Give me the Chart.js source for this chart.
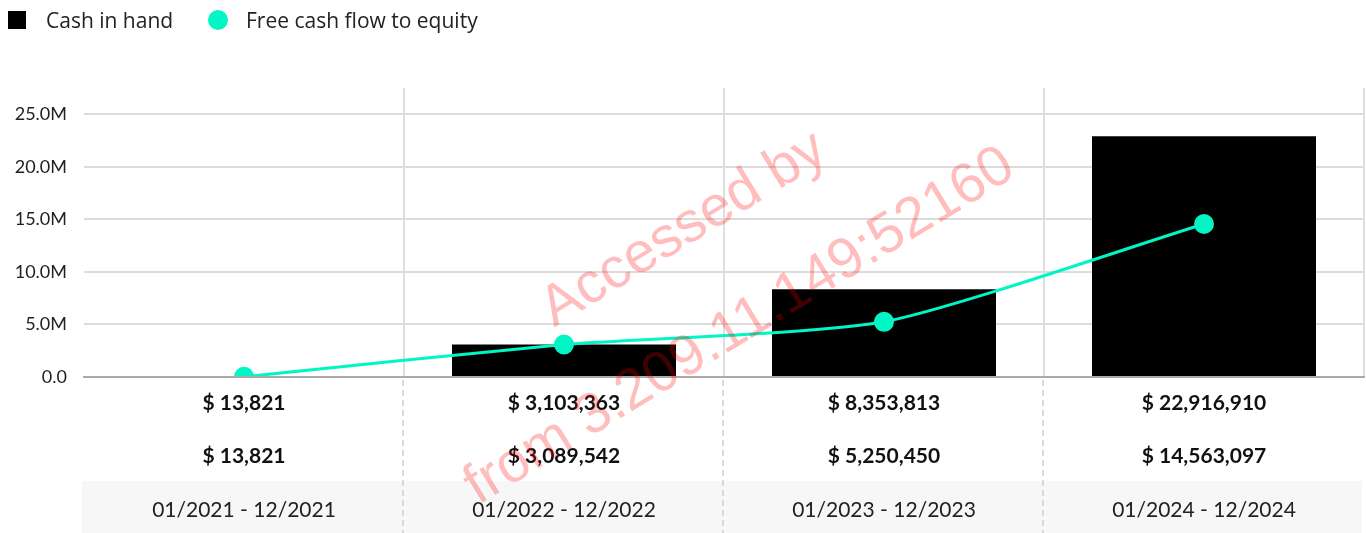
<!DOCTYPE html>
<html>
<head>
<meta charset="utf-8">
<script src="https://cdn.jsdelivr.net/npm/chart.js@4.4.1/dist/chart.umd.min.js"></script>
<style>
  html, body { margin: 0; padding: 0; background: #fff; }
  #wrap { position: relative; width: 1366px; height: 533px; }
  #legend { position: absolute; left: 0; top: 0; height: 40px; font-family: "Open Sans", sans-serif; font-size: 21px; color: #222; }
  .item { position: absolute; top: 6px; line-height: 28px; white-space: nowrap; }
  .swatch { position: absolute; }
</style>
</head>
<body>
<div id="wrap">
  <canvas id="chartCash"></canvas>
  <div id="legend">
    <span class="swatch" style="left:8px;top:11px;width:18px;height:18px;background:#000;"></span>
    <span class="item" style="left:46px;">Cash in hand</span>
    <span class="swatch" style="left:208px;top:10px;width:20px;height:20px;border-radius:50%;background:#00f6c4;"></span>
    <span class="item" style="left:246px;">Free cash flow to equity</span>
  </div>
</div>
<script>
// datos
const periodos = ['01/2021 - 12/2021', '01/2022 - 12/2022', '01/2023 - 12/2023', '01/2024 - 12/2024'];
const cashInHand = [13821, 3103363, 8353813, 22916910];
const freeCashFlow = [13821, 3089542, 5250450, 14563097];
const yTicks = [0, 5000000, 10000000, 15000000, 20000000, 25000000];
const yMax = 27500000;

const colorLinea = '#00f6c4';

function formatoDolar(v) {
    return '$ ' + v.toLocaleString('en-US');
}

// filas de valores, banda gris y marca de agua
const filasPlugin = {
    id: 'filas',
    afterDraw(chart) {
        const ctx = chart.ctx;
        const x = chart.scales.x;
        const area = chart.chartArea;
        const bandaTop = 481;
        ctx.save();
        ctx.fillStyle = '#f7f7f7';
        ctx.fillRect(area.left - 2, bandaTop, area.right - area.left, chart.height - bandaTop);

        // lineas punteadas debajo del eje
        ctx.strokeStyle = '#d9d9d9';
        ctx.lineWidth = 2;
        ctx.setLineDash([6, 4]);
        for (let i = 1; i < periodos.length; i++) {
            const px = Math.round((x.getPixelForValue(i - 1) + x.getPixelForValue(i)) / 2) - 1;
            ctx.beginPath();
            ctx.moveTo(px, area.bottom + 3);
            ctx.lineTo(px, chart.height);
            ctx.stroke();
        }
        ctx.setLineDash([]);

        ctx.textAlign = 'center';
        ctx.textBaseline = 'middle';
        for (let i = 0; i < periodos.length; i++) {
            const px = x.getPixelForValue(i);
            ctx.fillStyle = '#111';
            ctx.font = 'bold 21px Lato';
            ctx.fillText(formatoDolar(cashInHand[i]), px, 403);
            ctx.fillText(formatoDolar(freeCashFlow[i]), px, 456);
            ctx.fillStyle = '#222';
            ctx.font = '21px Lato';
            ctx.fillText(periodos[i], px, 510);
        }

        // marca de agua
        ctx.fillStyle = 'rgba(255, 0, 0, 0.26)';
        ctx.font = '57px "Liberation Sans"';
        ctx.textBaseline = 'alphabetic';
        ctx.translate(692, 243);
        ctx.rotate(-31.5 * Math.PI / 180);
        ctx.fillText('Accessed by', 0, 0);
        ctx.fillText('from 3.209.11.149:52160', -3, 112);
        ctx.restore();
    }
};

const ctxCash = document.getElementById('chartCash').getContext('2d');
new Chart(ctxCash, {
    data: {
        labels: periodos,
        datasets: [
            {
                type: 'line',
                label: 'Free cash flow to equity',
                data: freeCashFlow,
                borderColor: colorLinea,
                backgroundColor: colorLinea,
                borderWidth: 3,
                pointRadius: 10,
                pointHoverRadius: 10,
                pointBorderWidth: 0,
                tension: 0.2,
                order: 0,
            },
            {
                type: 'bar',
                label: 'Cash in hand',
                data: cashInHand,
                backgroundColor: '#000',
                borderWidth: 0,
                categoryPercentage: 1,
                barPercentage: 0.7,
                order: 1,
            },
        ],
    },
    options: {
        responsive: true,
        maintainAspectRatio: false,
        animation: false,
        layout: {
            autoPadding: false,
            padding: {top: 88, right: 2, left: 0, bottom: 0}
        },
        plugins: {
            legend: {display: false},
            tooltip: {enabled: false},
        },
        scales: {
            x: {
                offset: true,
                ticks: {display: false},
                grid: {
                    offset: true,
                    drawTicks: false,
                    color: (c) => (c.index % periodos.length === 0 ? 'rgba(0,0,0,0)' : '#dedede'),
                    lineWidth: 2,
                },
                border: {color: '#aaa', width: 2, z: 1},
                afterFit(scale) { scale.height = 156; },
            },
            y: {
                min: 0,
                max: yMax,
                afterBuildTicks(scale) {
                    scale.ticks = yTicks.map(v => ({value: v}));
                },
                ticks: {
                    padding: 17,
                    color: '#222',
                    font: {family: 'Lato', size: 18},
                    callback: (v) => (v === 0 ? '0.0' : (v / 1000000).toFixed(1) + 'M'),
                },
                grid: {
                    drawTicks: false,
                    color: '#dcdcdc',
                    lineWidth: 2,
                },
                border: {display: false},
                afterFit(scale) { scale.width = 84; },
            },
        },
    },
    plugins: [filasPlugin],
});
</script>
</body>
</html>
